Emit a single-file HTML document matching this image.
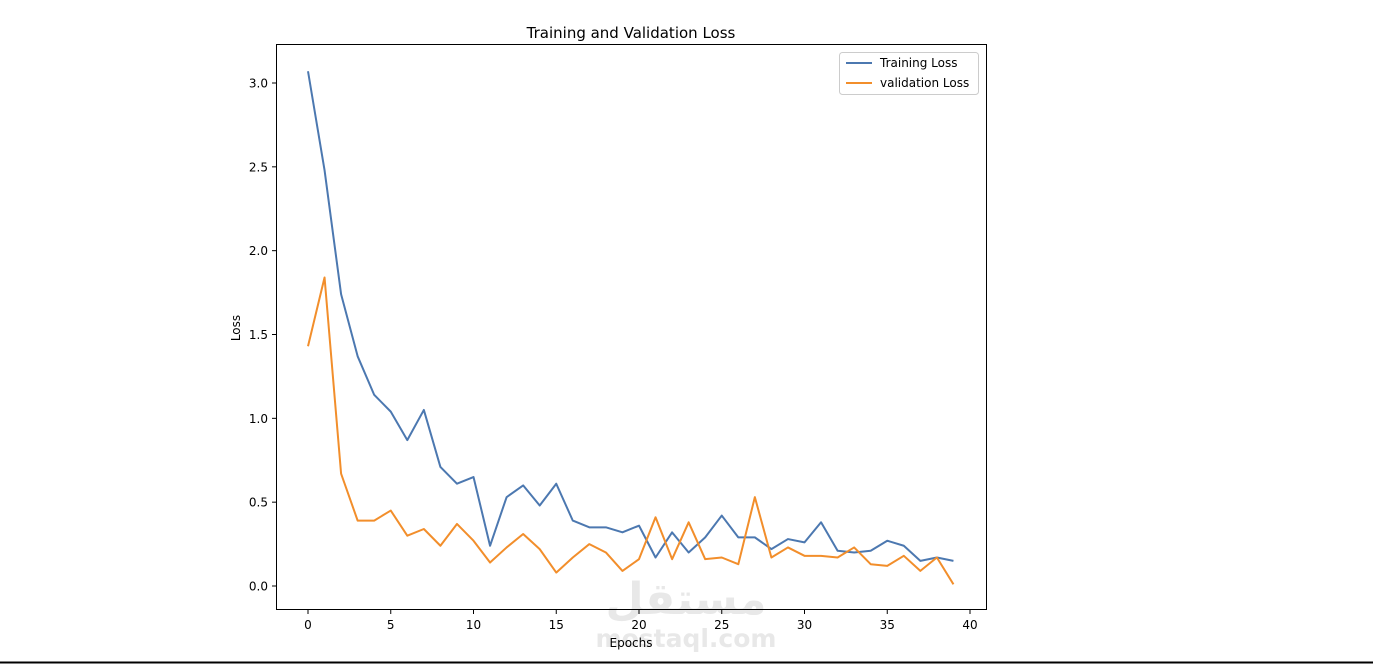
<!DOCTYPE html>
<html><head><meta charset="utf-8"><style>
body{margin:0;background:#fff;width:1373px;height:665px;overflow:hidden;font-family:"DejaVu Sans","Liberation Sans",sans-serif}
</style></head><body>
<svg id="chart" width="1373" height="665" style="position:absolute;left:0;top:0;font-family:'DejaVu Sans','Liberation Sans',sans-serif">
<text x="686" y="614" font-size="44" font-weight="bold" fill="#e8e8e8" text-anchor="middle">مستقل</text>
<text x="686" y="647" font-size="25" font-weight="bold" fill="#e8e8e8" text-anchor="middle">mostaql.com</text>
<text x="631" y="38" font-size="15" text-anchor="middle" fill="#000">Training and Validation Loss</text>
<rect x="276.5" y="44.5" width="710" height="565" fill="none" stroke="#000" stroke-width="1"/>
<g id="xt"></g><g id="yt"></g><g id="series"></g>
<text x="631" y="647" font-size="12" text-anchor="middle">Epochs</text>
<text x="240" y="328" font-size="12" text-anchor="middle" transform="rotate(-90 240 328)">Loss</text>
<g>
<rect x="839.5" y="52.5" width="139" height="42" rx="3" fill="#fff" stroke="#ccc"/>
<line x1="846" y1="63" x2="872" y2="63" stroke="#4c78b0" stroke-width="2"/>
<text x="880" y="67" font-size="12">Training Loss</text>
<line x1="846" y1="83" x2="872" y2="83" stroke="#f28e2b" stroke-width="2"/>
<text x="880" y="87" font-size="12">validation Loss</text>
</g>
<line x1="0" y1="662.5" x2="1373" y2="662.5" stroke="#000" stroke-width="2"/>
</svg>
<script>
const epochs=[...Array(40).keys()];
const trainLoss=[3.07,2.48,1.74,1.37,1.14,1.04,0.87,1.05,0.71,0.61,0.65,0.24,0.53,0.60,0.48,0.61,0.39,0.35,0.35,0.32,0.36,0.17,0.32,0.20,0.29,0.42,0.29,0.29,0.22,0.28,0.26,0.38,0.21,0.20,0.21,0.27,0.24,0.15,0.17,0.15];
const valLoss=[1.43,1.84,0.67,0.39,0.39,0.45,0.30,0.34,0.24,0.37,0.27,0.14,0.23,0.31,0.22,0.08,0.17,0.25,0.20,0.09,0.16,0.41,0.16,0.38,0.16,0.17,0.13,0.53,0.17,0.23,0.18,0.18,0.17,0.23,0.13,0.12,0.18,0.09,0.17,0.01];
const xTicks=[0,5,10,15,20,25,30,35,40];
const yTicks=[0,0.5,1.0,1.5,2.0,2.5,3.0];
const NS='http://www.w3.org/2000/svg';
const X=v=>308+v*(970-308)/40;
const Y=v=>586-v*(586-83)/3;
function mk(t,a,p){const e=document.createElementNS(NS,t);for(const k in a)e.setAttribute(k,a[k]);p.appendChild(e);return e;}
const xt=document.getElementById('xt'),yt=document.getElementById('yt'),sg=document.getElementById('series');
xTicks.forEach(v=>{
 const l=mk('line',{x1:X(v),x2:X(v),y1:610,y2:614,stroke:'#000'},xt);
 
 
 const t=mk('text',{x:X(v),y:629,'font-size':12,'text-anchor':'middle'},xt);t.textContent=v;
 
 
});
yTicks.forEach(v=>{
 const l=mk('line',{x1:272,x2:276,y1:Y(v),y2:Y(v),stroke:'#000'},yt);
 
 
 const t=mk('text',{x:268,y:Y(v)+4.5,'font-size':12,'text-anchor':'end'},yt);t.textContent=v.toFixed(1);
 
 
});
[[trainLoss,'#4c78b0','training-loss-line'],[valLoss,'#f28e2b','validation-loss-line']].forEach(([d,c,n])=>{
 const p=mk('polyline',{points:d.map((v,i)=>X(epochs[i])+','+Y(v)).join(' '),fill:'none',stroke:c,'stroke-width':2,'stroke-linejoin':'round'},sg);
 
 
});
</script>
</body></html>
